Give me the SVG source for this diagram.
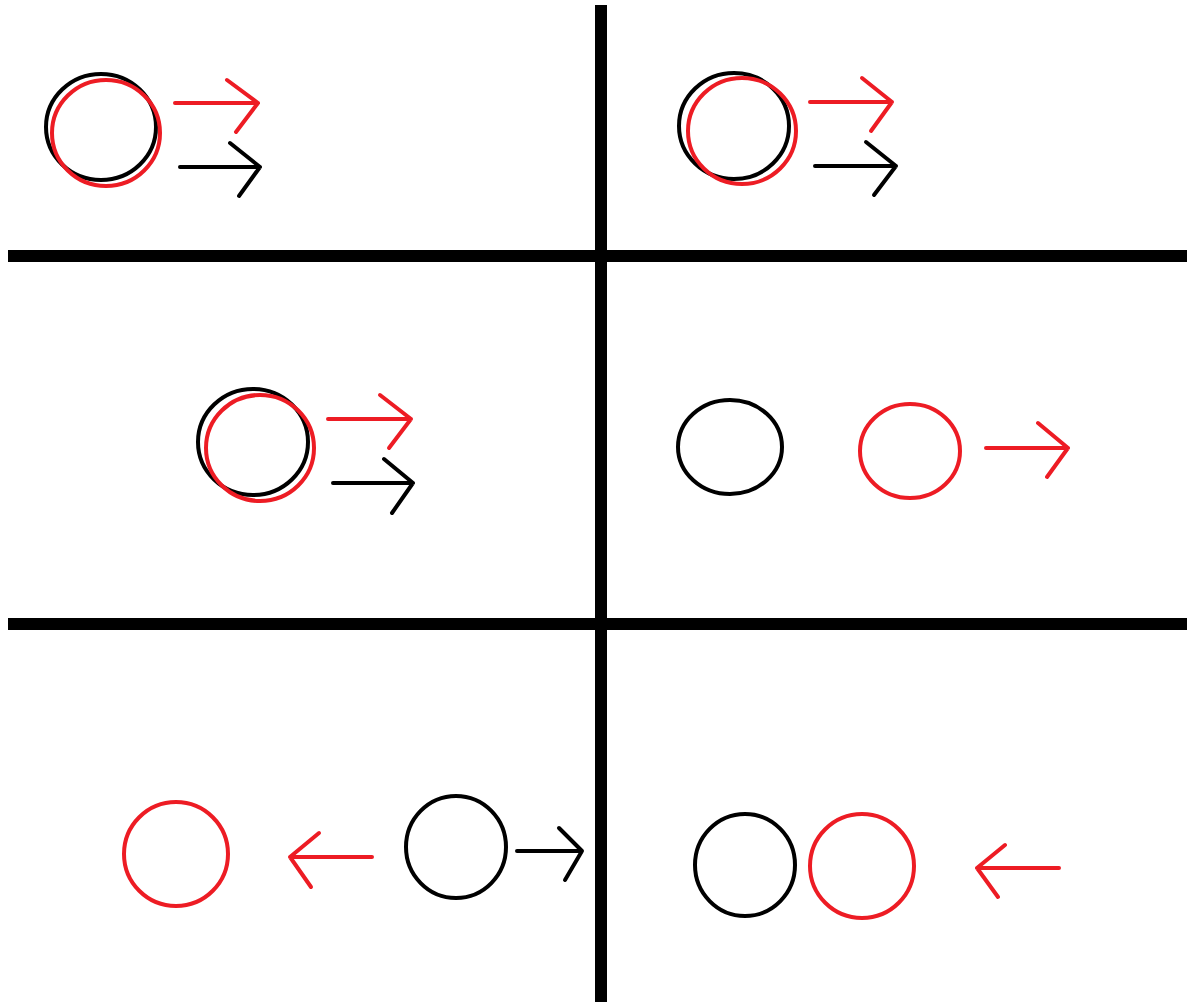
<svg xmlns="http://www.w3.org/2000/svg" width="1187" height="1002" viewBox="0 0 1187 1002">
<style>
.k{stroke:#000;fill:none}
.r{stroke:#ed1c24;fill:none}
.c{stroke-width:4}
.a{stroke-width:4;stroke-linecap:round;stroke-linejoin:round}
.g{stroke:#000;stroke-width:12;fill:none}
</style>
<rect width="1187" height="1002" fill="#fff"/>
<g id="grid">
<line class="g" x1="601" y1="5" x2="601" y2="1002"/>
<line class="g" x1="8" y1="256" x2="1187" y2="256"/>
<line class="g" x1="8" y1="624" x2="1187" y2="624"/>
</g>
<g id="panel1">
<ellipse class="k c" cx="101" cy="127" rx="55" ry="53"/>
<ellipse class="r c" cx="106" cy="133" rx="54" ry="53"/>
</g>
<g id="panel2">
<ellipse class="k c" cx="734" cy="126" rx="55" ry="53"/>
<ellipse class="r c" cx="742" cy="131" rx="54" ry="53"/>
</g>
<g id="panel3">
<ellipse class="k c" cx="253" cy="442" rx="55" ry="53"/>
<ellipse class="r c" cx="260" cy="448" rx="54" ry="53"/>
</g>
<g id="panel4">
<ellipse class="k c" cx="730" cy="447" rx="52" ry="47"/>
<ellipse class="r c" cx="910" cy="451" rx="50" ry="47"/>
</g>
<g id="panel5">
<ellipse class="r c" cx="176" cy="854" rx="52" ry="52"/>
<ellipse class="k c" cx="456" cy="847" rx="50" ry="51"/>
</g>
<g id="panel6">
<ellipse class="k c" cx="745" cy="865" rx="50" ry="51"/>
<ellipse class="r c" cx="862" cy="866" rx="52" ry="52"/>
</g>
<g id="connectors">
<path class="r a" d="M175 103H258M227 80L258 103L236 132"/>
<path class="k a" d="M180 167H260M230 143L260 167L239 196"/>
<path class="r a" d="M810 102H892M862 78L892 102L871 131"/>
<path class="k a" d="M815 166H896M866 142L896 166L874 195"/>
<path class="r a" d="M328 419H411M380 395L411 419L389 448"/>
<path class="k a" d="M333 483H413M384 459L413 483L392 513"/>
<path class="r a" d="M986 448H1068M1038 423L1068 448L1047 477"/>
<path class="r a" d="M372 857H290M319 833L290 857L311 887"/>
<path class="k a" d="M517 851H582M559 828L582 851L565 880"/>
<path class="r a" d="M1059 868H977M1005 845L977 868L998 897"/>
</g>
</svg>
